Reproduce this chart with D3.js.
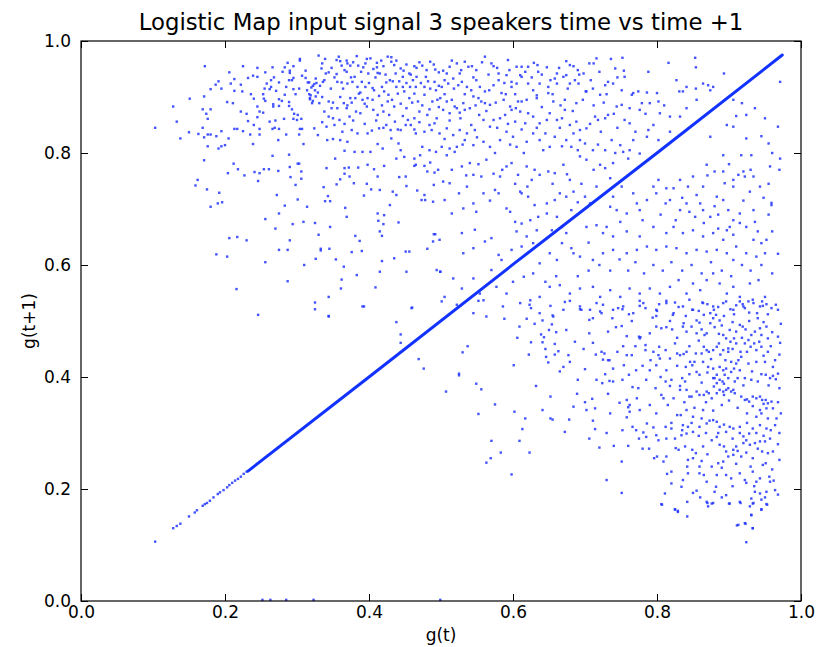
<!DOCTYPE html>
<meta charset="utf-8" />
<script src="https://d3js.org/d3.v7.min.js"></script>
<body style="margin:0;background:#fff">
<div id="chart"></div>
<script>
// all points are [g(t), g(t+1)] pairs

// the thick diagonal band where g(t+1) ~ g(t)
const diagonalLine = [[0.232,0.232],[0.4,0.4],[0.6,0.601],[0.8,0.8],[0.974,0.975]];
const diagonalDots = [[0.103,0.106],[0.128,0.130],[0.133,0.134],[0.138,0.138],[0.150,0.151],[0.158,0.158],[0.161,0.162],
  [0.169,0.170],[0.172,0.173],[0.175,0.175],[0.179,0.179],[0.184,0.185],[0.190,0.191],[0.193,0.194],[0.198,0.198],
  [0.203,0.203],[0.206,0.207],[0.210,0.211],[0.214,0.215],[0.218,0.218],[0.222,0.222],[0.226,0.227],[0.230,0.231]];

// points sitting on the bottom axis
const floorDots = [[0.252,0.002],[0.263,0.002],[0.285,0.002],[0.323,0.002],[0.499,0.002]];

// upper left cloud, g(t) < 0.5
const upperLeft = [[0.103,0.845],[0.128,0.883],[0.133,0.856],[0.138,0.826],[0.151,0.897],[0.150,0.837],[0.163,0.834],[0.172,0.955],
  [0.171,0.901],[0.169,0.878],[0.174,0.870],[0.176,0.861],[0.169,0.845],[0.171,0.828],[0.176,0.833],[0.180,0.833],[0.180,0.878],
  [0.180,0.914],[0.187,0.922],[0.191,0.928],[0.195,0.915],[0.188,0.830],[0.176,0.812],[0.191,0.808],[0.195,0.812],[0.200,0.814],
  [0.205,0.826],[0.195,0.839],[0.171,0.787],[0.203,0.891],[0.211,0.889],[0.206,0.944],[0.213,0.932],[0.208,0.924],[0.213,0.911],
  [0.224,0.910],[0.222,0.874],[0.230,0.870],[0.232,0.857],[0.213,0.843],[0.217,0.843],[0.225,0.839],[0.235,0.833],[0.239,0.816],
  [0.240,0.850],[0.232,0.934],[0.239,0.938],[0.245,0.936],[0.240,0.897],[0.245,0.883],[0.248,0.874],[0.253,0.872],[0.245,0.864],
  [0.248,0.843],[0.248,0.833],[0.253,0.905],[0.254,0.897],[0.256,0.893],[0.256,0.944],[0.258,0.924],[0.262,0.914],[0.264,0.930],
  [0.266,0.953],[0.264,0.918],[0.267,0.887],[0.267,0.883],[0.271,0.911],[0.262,0.856],[0.270,0.858],[0.266,0.843],[0.269,0.845],
  [0.275,0.843],[0.275,0.926],[0.275,0.896],[0.275,0.884],[0.274,0.823],[0.266,0.795],[0.279,0.893],[0.282,0.861],[0.283,0.953],
  [0.287,0.961],[0.290,0.947],[0.290,0.943],[0.289,0.930],[0.283,0.904],[0.289,0.891],[0.289,0.884],[0.285,0.833],[0.289,0.797],
  [0.295,0.934],[0.293,0.930],[0.295,0.914],[0.293,0.878],[0.295,0.861],[0.296,0.870],[0.300,0.859],[0.301,0.868],[0.304,0.968],
  [0.304,0.965],[0.303,0.915],[0.306,0.861],[0.304,0.843],[0.307,0.843],[0.303,0.833],[0.309,0.816],[0.301,0.781],[0.290,0.775],
  [0.307,0.938],[0.312,0.947],[0.312,0.934],[0.315,0.926],[0.317,0.926],[0.314,0.912],[0.317,0.905],[0.320,0.917],[0.322,0.920],
  [0.325,0.912],[0.318,0.896],[0.321,0.889],[0.327,0.925],[0.329,0.908],
  [0.162,0.752],[0.159,0.742],[0.175,0.735],[0.192,0.729],[0.196,0.712],[0.190,0.710],[0.180,0.704],[0.204,0.764],[0.212,0.781],
  [0.218,0.771],[0.227,0.760],[0.241,0.766],[0.248,0.764],[0.246,0.750],[0.254,0.771],[0.261,0.771],[0.274,0.768],[0.272,0.725],
  [0.283,0.706],[0.275,0.692],[0.256,0.682],[0.270,0.665],[0.291,0.757],[0.298,0.743],[0.301,0.717],[0.294,0.673],[0.309,0.677],
  [0.303,0.781],[0.306,0.767],[0.306,0.754],[0.314,0.704],[0.325,0.675],[0.330,0.654],[0.206,0.648],[0.217,0.650],[0.230,0.644],
  [0.188,0.619],[0.203,0.615],[0.256,0.605],[0.275,0.627],[0.287,0.627],[0.290,0.644],[0.287,0.571],[0.216,0.557],[0.310,0.600],
  [0.326,0.611],[0.325,0.533],[0.325,0.521],[0.246,0.511],[0.333,0.629],[0.333,0.626],
  [0.330,0.974],[0.339,0.968],[0.334,0.951],[0.344,0.944],[0.355,0.966],[0.360,0.964],[0.362,0.956],[0.369,0.965],[0.370,0.960],
  [0.374,0.956],[0.383,0.973],[0.385,0.956],[0.397,0.968],[0.402,0.969],[0.411,0.961],[0.411,0.953],[0.420,0.955],[0.426,0.972],
  [0.431,0.971],[0.431,0.963],[0.435,0.957],[0.444,0.951],[0.448,0.947],[0.463,0.955],[0.466,0.952],[0.474,0.956],[0.485,0.963],
  [0.492,0.949],[0.497,0.944],[0.340,0.942],[0.355,0.941],[0.369,0.945],[0.380,0.936],[0.392,0.953],[0.399,0.942],[0.412,0.943],
  [0.415,0.942],[0.429,0.930],[0.437,0.942],[0.447,0.936],[0.456,0.942],[0.466,0.936],[0.479,0.936],[0.491,0.927],[0.326,0.933],
  [0.324,0.923],[0.332,0.920],[0.336,0.927],[0.356,0.927],[0.362,0.926],[0.370,0.924],[0.377,0.927],[0.384,0.918],[0.390,0.927],
  [0.395,0.918],[0.405,0.916],[0.424,0.926],[0.433,0.928],[0.438,0.918],[0.447,0.918],[0.457,0.918],[0.465,0.918],[0.477,0.918],
  [0.485,0.915],[0.493,0.912],[0.319,0.903],[0.318,0.898],[0.322,0.893],[0.326,0.901],[0.331,0.889],[0.344,0.892],[0.350,0.890],
  [0.356,0.880],[0.365,0.889],[0.374,0.898],[0.376,0.890],[0.386,0.906],[0.391,0.895],[0.398,0.898],[0.397,0.883],[0.407,0.912],
  [0.414,0.902],[0.421,0.910],[0.427,0.904],[0.432,0.895],[0.440,0.906],[0.449,0.910],[0.456,0.898],[0.463,0.906],[0.468,0.892],
  [0.477,0.904],[0.488,0.892],[0.495,0.895],[0.338,0.874],[0.344,0.865],[0.359,0.859],[0.369,0.880],[0.373,0.865],[0.382,0.874],
  [0.388,0.871],[0.406,0.877],[0.412,0.868],[0.420,0.874],[0.428,0.868],[0.435,0.883],[0.447,0.866],[0.454,0.859],[0.463,0.862],
  [0.470,0.874],[0.481,0.868],[0.491,0.853],[0.324,0.844],[0.329,0.832],[0.341,0.847],[0.352,0.850],[0.363,0.838],[0.376,0.841],
  [0.384,0.835],[0.398,0.835],[0.404,0.840],[0.414,0.844],[0.424,0.850],[0.430,0.841],[0.440,0.842],[0.444,0.841],[0.451,0.850],
  [0.463,0.842],[0.465,0.835],[0.477,0.838],[0.487,0.841],[0.498,0.835],[0.342,0.823],[0.350,0.825],[0.360,0.823],[0.366,0.804],
  [0.370,0.820],[0.380,0.802],[0.391,0.802],[0.402,0.802],[0.412,0.816],[0.419,0.808],[0.431,0.826],[0.441,0.817],[0.444,0.805],
  [0.438,0.790],[0.449,0.793],[0.463,0.790],[0.471,0.796],[0.474,0.811],[0.484,0.805],[0.485,0.783],[0.493,0.802],[0.463,0.777],
  [0.465,0.779],[0.477,0.777],
  [0.341,0.773],[0.353,0.790],[0.366,0.773],[0.372,0.774],[0.373,0.758],[0.366,0.763],[0.355,0.744],[0.360,0.753],[0.379,0.746],
  [0.385,0.774],[0.398,0.779],[0.407,0.771],[0.412,0.758],[0.421,0.777],[0.397,0.745],[0.403,0.735],[0.415,0.734],[0.433,0.731],
  [0.438,0.725],[0.442,0.757],[0.451,0.758],[0.452,0.741],[0.467,0.733],[0.477,0.725],[0.478,0.716],[0.473,0.716],[0.489,0.713],
  [0.490,0.743],[0.496,0.770],[0.491,0.765],[0.481,0.767],[0.337,0.739],[0.343,0.723],[0.346,0.714],[0.339,0.714],[0.367,0.702],
  [0.369,0.686],[0.393,0.724],[0.412,0.692],[0.413,0.679],[0.421,0.689],[0.420,0.673],[0.429,0.707],[0.441,0.676],[0.415,0.660],
  [0.418,0.652],[0.381,0.652],[0.387,0.643],[0.346,0.668],[0.490,0.655],[0.492,0.655],[0.489,0.642],[0.498,0.645],[0.481,0.629],
  [0.451,0.624],[0.456,0.624],[0.435,0.612],[0.418,0.607],[0.390,0.625],[0.376,0.623],[0.365,0.597],[0.354,0.610],[0.345,0.629],
  [0.415,0.588],[0.452,0.588],[0.494,0.591],[0.499,0.588],[0.383,0.582],[0.362,0.574],[0.361,0.558],[0.409,0.560],[0.344,0.543],
  [0.393,0.526],[0.460,0.524],[0.344,0.508]];

// extra points in the crowded top band, g(t) < 0.5
const upperBand = [[0.335,0.960],[0.348,0.952],[0.358,0.972],[0.366,0.948],[0.378,0.962],[0.389,0.945],[0.395,0.960],[0.406,0.950],
  [0.417,0.965],[0.423,0.940],[0.438,0.965],[0.452,0.958],[0.458,0.940],[0.470,0.962],[0.480,0.948],[0.490,0.958],[0.338,0.930],
  [0.347,0.915],[0.352,0.935],[0.364,0.915],[0.375,0.935],[0.388,0.908],[0.400,0.925],[0.409,0.935],[0.418,0.918],[0.442,0.928],
  [0.452,0.925],[0.461,0.930],[0.472,0.925],[0.482,0.928],[0.497,0.920],[0.335,0.900],[0.348,0.880],[0.360,0.900],[0.370,0.885],
  [0.381,0.898],[0.394,0.888],[0.405,0.895],[0.418,0.885],[0.426,0.892],[0.444,0.888],[0.452,0.880],[0.460,0.890],[0.474,0.885],
  [0.484,0.878],[0.497,0.882],[0.335,0.855],[0.350,0.862],[0.366,0.852],[0.378,0.858],[0.394,0.852],[0.410,0.858],[0.420,0.845],
  [0.436,0.856],[0.458,0.850],[0.470,0.855],[0.484,0.850],[0.494,0.862],[0.225,0.955],[0.245,0.952],[0.255,0.915],[0.268,0.935],
  [0.280,0.945],[0.295,0.955],[0.285,0.918],[0.298,0.905],[0.236,0.905],[0.222,0.922]];

// upper right cloud above the diagonal, g(t) >= 0.5
const upperRight = [[0.503,0.947],[0.512,0.954],[0.522,0.960],[0.533,0.963],[0.538,0.954],[0.543,0.955],[0.549,0.948],[0.561,0.972],
  [0.570,0.960],[0.573,0.955],[0.580,0.942],[0.593,0.966],[0.605,0.954],[0.612,0.954],[0.621,0.954],[0.629,0.961],[0.634,0.957],
  [0.635,0.945],[0.647,0.953],[0.661,0.942],[0.674,0.964],[0.679,0.957],[0.684,0.955],[0.692,0.940],[0.698,0.942],[0.706,0.960],
  [0.712,0.960],[0.716,0.969],[0.736,0.968],[0.752,0.970],[0.742,0.951],[0.754,0.947],[0.788,0.945],[0.816,0.961],[0.853,0.970],
  [0.854,0.953],[0.610,0.939],[0.591,0.939],[0.508,0.942],[0.526,0.942],
  [0.501,0.918],[0.505,0.930],[0.510,0.924],[0.517,0.933],[0.524,0.921],[0.529,0.927],[0.536,0.918],[0.542,0.912],[0.549,0.930],
  [0.554,0.918],[0.561,0.910],[0.567,0.912],[0.573,0.921],[0.580,0.930],[0.584,0.907],[0.598,0.918],[0.598,0.927],[0.605,0.924],
  [0.612,0.936],[0.621,0.924],[0.628,0.912],[0.637,0.924],[0.649,0.918],[0.649,0.907],[0.658,0.933],[0.661,0.924],[0.670,0.936],
  [0.674,0.939],[0.679,0.924],[0.686,0.930],[0.691,0.924],[0.701,0.910],[0.711,0.915],[0.728,0.921],[0.732,0.927],[0.739,0.924],
  [0.755,0.936],[0.751,0.912],[0.765,0.904],[0.767,0.907],[0.774,0.910],[0.786,0.908],[0.800,0.907],[0.827,0.930],[0.831,0.910],
  [0.836,0.910],[0.841,0.918],[0.854,0.915],[0.864,0.924],[0.871,0.921],[0.874,0.912],[0.878,0.918],[0.893,0.942],
  [0.499,0.898],[0.508,0.892],[0.515,0.895],[0.519,0.883],[0.531,0.889],[0.545,0.901],[0.552,0.898],[0.556,0.892],[0.561,0.889],
  [0.568,0.886],[0.587,0.895],[0.596,0.883],[0.607,0.892],[0.612,0.892],[0.633,0.903],[0.633,0.898],[0.656,0.892],[0.672,0.895],
  [0.688,0.889],[0.702,0.910],[0.721,0.904],[0.751,0.886],[0.779,0.889],[0.790,0.889],[0.802,0.892],[0.855,0.895],[0.841,0.880],
  [0.503,0.877],[0.512,0.871],[0.522,0.880],[0.526,0.872],[0.533,0.877],[0.540,0.880],[0.559,0.859],[0.568,0.847],[0.573,0.859],
  [0.582,0.862],[0.589,0.868],[0.598,0.877],[0.603,0.856],[0.610,0.874],[0.617,0.853],[0.621,0.871],[0.628,0.865],[0.637,0.853],
  [0.647,0.859],[0.651,0.871],[0.661,0.859],[0.668,0.862],[0.672,0.877],[0.679,0.850],[0.688,0.856],[0.693,0.841],[0.702,0.844],
  [0.714,0.865],[0.718,0.859],[0.728,0.862],[0.732,0.868],[0.744,0.883],[0.755,0.859],[0.762,0.853],[0.776,0.877],[0.788,0.841],
  [0.804,0.871],[0.818,0.865],[0.832,0.865],[0.508,0.844],[0.517,0.832],[0.526,0.841],[0.536,0.835],[0.547,0.841],[0.533,0.823],
  [0.545,0.814],[0.559,0.820],[0.568,0.811],[0.582,0.823],[0.591,0.838],[0.600,0.829],[0.605,0.811],[0.619,0.820],[0.628,0.835],
  [0.637,0.823],[0.651,0.811],[0.658,0.829],[0.674,0.823],[0.681,0.811],[0.693,0.823],[0.700,0.817],[0.711,0.805],[0.728,0.805],
  [0.737,0.823],[0.749,0.814],[0.767,0.823],[0.786,0.829],[0.802,0.823],[0.818,0.838],[0.501,0.811],[0.512,0.808],[0.522,0.811],
  [0.508,0.796],[0.519,0.802],[0.529,0.776],[0.540,0.782],[0.545,0.761],[0.556,0.758],[0.563,0.788],[0.573,0.763],[0.575,0.734],
  [0.582,0.758],[0.591,0.776],[0.598,0.782],[0.607,0.761],[0.610,0.731],[0.619,0.776],[0.626,0.752],[0.637,0.761],[0.649,0.767],
  [0.658,0.764],[0.670,0.779],[0.679,0.752],[0.693,0.794],[0.702,0.788],[0.721,0.779],[0.728,0.773],[0.739,0.782],[0.753,0.802],
  [0.762,0.805],[0.776,0.799],[0.503,0.749],[0.512,0.746],[0.505,0.716],[0.536,0.740],[0.559,0.728],[0.580,0.728],[0.591,0.701],
  [0.596,0.695],[0.612,0.728],[0.621,0.722],[0.630,0.707],[0.647,0.710],[0.658,0.716],[0.674,0.722],[0.684,0.731],[0.700,0.722],
  [0.707,0.710],[0.716,0.740],[0.739,0.722],[0.751,0.740],
  [0.515,0.692],[0.531,0.701],[0.545,0.710],[0.549,0.695],[0.529,0.657],[0.547,0.663],[0.561,0.642],[0.570,0.648],[0.580,0.618],
  [0.603,0.677],[0.612,0.674],[0.624,0.680],[0.635,0.686],[0.647,0.692],[0.661,0.686],[0.681,0.698],[0.605,0.660],[0.619,0.651],
  [0.633,0.662],[0.654,0.662],[0.668,0.668],[0.531,0.621],[0.545,0.630],[0.570,0.591],[0.584,0.609],[0.598,0.627],[0.612,0.633],
  [0.628,0.639],[0.499,0.588],[0.517,0.576],[0.545,0.576],[0.505,0.543],[0.529,0.558],[0.554,0.549],[0.501,0.535],
  [0.515,0.965],[0.528,0.948],[0.545,0.935],[0.557,0.962],[0.566,0.940],[0.578,0.952],[0.588,0.925],[0.595,0.948],[0.603,0.905],
  [0.617,0.945],[0.626,0.935],[0.640,0.940],[0.652,0.930],[0.664,0.952],[0.676,0.915],[0.690,0.948],[0.708,0.930],[0.720,0.945],
  [0.730,0.905],[0.745,0.935],[0.505,0.905],[0.518,0.915],[0.533,0.905],[0.548,0.885],[0.563,0.875],[0.576,0.890],[0.590,0.905],
  [0.604,0.880],[0.619,0.895],[0.640,0.882],[0.655,0.905],[0.666,0.885],[0.683,0.875],[0.697,0.895],[0.712,0.885],[0.726,0.890],
  [0.740,0.870],[0.762,0.880],[0.784,0.870],[0.810,0.885],[0.512,0.858],[0.527,0.862],[0.542,0.850],[0.553,0.868],[0.578,0.845],
  [0.593,0.852],[0.612,0.842],[0.633,0.845],[0.645,0.835],[0.665,0.845],[0.684,0.835],[0.707,0.852],[0.722,0.838],[0.745,0.845],
  [0.770,0.838],[0.795,0.850],[0.505,0.825],[0.530,0.815],[0.550,0.828],[0.575,0.800],[0.596,0.815],[0.615,0.800],[0.642,0.805],
  [0.668,0.812],[0.690,0.805],[0.718,0.815],[0.742,0.800],[0.760,0.790],[0.515,0.770],[0.535,0.760],[0.552,0.780],[0.585,0.770],
  [0.603,0.745],[0.630,0.770],[0.655,0.745],[0.675,0.762],[0.695,0.745],[0.712,0.770],[0.735,0.755],[0.525,0.728],[0.568,0.715],
  [0.620,0.740],[0.665,0.728],[0.690,0.712]];

// lower right cloud below the diagonal, upper half
const belowUpper = [[0.906,0.895],[0.918,0.889],[0.936,0.880],[0.910,0.866],[0.924,0.868],[0.950,0.862],[0.968,0.847],[0.897,0.850],
  [0.906,0.847],[0.924,0.826],[0.955,0.817],[0.971,0.927],[0.971,0.790],[0.970,0.770],[0.957,0.776],[0.874,0.829],[0.892,0.796],
  [0.869,0.779],[0.880,0.767],[0.892,0.767],[0.894,0.746],[0.906,0.752],[0.913,0.761],[0.920,0.767],[0.922,0.758],[0.934,0.758],
  [0.943,0.740],[0.929,0.731],[0.906,0.740],[0.959,0.711],[0.959,0.707],[0.917,0.796],[0.931,0.796],[0.850,0.758],[0.864,0.740],
  [0.843,0.740],[0.832,0.752],[0.823,0.737],[0.855,0.725],[0.883,0.722],[0.892,0.716],[0.899,0.698],[0.906,0.680],[0.915,0.692],
  [0.934,0.698],[0.936,0.677],[0.924,0.668],[0.901,0.668],[0.897,0.662],[0.885,0.665],[0.874,0.686],[0.864,0.698],[0.853,0.686],
  [0.841,0.710],[0.832,0.698],[0.818,0.716],[0.813,0.737],[0.802,0.752],[0.795,0.740],[0.799,0.728],[0.786,0.716],[0.767,0.728],
  [0.772,0.710],[0.776,0.698],[0.758,0.692],[0.744,0.698],[0.735,0.704],[0.749,0.677],[0.730,0.668],[0.716,0.671],[0.702,0.668],
  [0.725,0.657],[0.739,0.651],[0.758,0.660],[0.776,0.651],[0.795,0.668],[0.813,0.657],[0.823,0.668],[0.836,0.657],[0.850,0.662],
  [0.864,0.651],[0.878,0.657],[0.892,0.645],[0.906,0.654],[0.934,0.645],[0.945,0.639],[0.952,0.645],[0.950,0.621],[0.938,0.615],
  [0.924,0.621],[0.910,0.633],[0.906,0.609],[0.897,0.621],[0.883,0.627],[0.869,0.624],[0.855,0.627],[0.841,0.621],[0.827,0.630],
  [0.813,0.633],[0.799,0.627],[0.786,0.633],[0.772,0.627],[0.758,0.621],[0.739,0.627],[0.725,0.621],[0.711,0.609],[0.693,0.615],
  [0.684,0.621],[0.674,0.657],[0.681,0.630],[0.668,0.639],[0.661,0.609],[0.651,0.621],[0.637,0.603],[0.628,0.585],[0.615,0.579],
  [0.600,0.570],[0.591,0.549],[0.577,0.561],[0.559,0.537],[0.545,0.514],[0.563,0.508],[0.586,0.526],[0.610,0.532],[0.624,0.537],
  [0.637,0.543],[0.651,0.561],[0.665,0.564],[0.679,0.549],[0.693,0.558],[0.711,0.561],[0.721,0.543],[0.735,0.555],[0.749,0.543],
  [0.762,0.558],[0.776,0.549],[0.790,0.558],[0.804,0.549],[0.818,0.561],[0.830,0.573],[0.841,0.549],[0.850,0.567],[0.860,0.555],
  [0.869,0.573],[0.878,0.585],[0.887,0.567],[0.897,0.549],[0.906,0.561],[0.915,0.543],[0.929,0.567],[0.941,0.573],[0.950,0.543],
  [0.943,0.526],[0.934,0.532],[0.920,0.526],[0.906,0.520],[0.892,0.532],[0.878,0.526],[0.864,0.532],[0.850,0.520],[0.836,0.526],
  [0.823,0.514],[0.813,0.532],[0.799,0.520],[0.781,0.532],[0.767,0.514],[0.753,0.526],[0.739,0.520],[0.725,0.529],[0.707,0.520],
  [0.693,0.526],[0.670,0.520],[0.656,0.508],[0.637,0.514],
  [0.705,0.640],[0.720,0.600],[0.735,0.590],[0.748,0.610],[0.760,0.590],[0.770,0.605],[0.782,0.585],[0.795,0.600],[0.808,0.590],
  [0.820,0.605],[0.835,0.590],[0.848,0.600],[0.862,0.585],[0.875,0.605],[0.890,0.590],[0.903,0.580],[0.918,0.600],[0.930,0.590],
  [0.945,0.600],[0.960,0.585],[0.968,0.620],[0.960,0.660],[0.690,0.580],[0.660,0.580],[0.645,0.570],[0.705,0.590],[0.780,0.680],
  [0.805,0.690],[0.826,0.680],[0.845,0.695],[0.865,0.675],[0.885,0.690],[0.915,0.675],[0.940,0.660],[0.955,0.690],[0.812,0.710],
  [0.835,0.720],[0.860,0.710],[0.880,0.705],[0.920,0.715],[0.948,0.720],[0.870,0.760],[0.900,0.780],[0.930,0.770],[0.955,0.745],
  [0.960,0.800],[0.945,0.830]];

// dense lower right cloud, g(t+1) < 0.54
const lowerRight = [[0.672,0.534],[0.679,0.536],[0.693,0.521],[0.695,0.520],[0.706,0.502],[0.711,0.505],[0.716,0.532],[0.721,0.517],
  [0.723,0.514],[0.746,0.523],[0.752,0.521],[0.761,0.512],[0.776,0.536],[0.776,0.527],[0.784,0.523],[0.794,0.506],[0.799,0.509],
  [0.803,0.530],[0.800,0.518],[0.813,0.536],[0.825,0.533],[0.822,0.511],[0.837,0.496],[0.840,0.509],[0.849,0.520],[0.855,0.501],
  [0.859,0.497],[0.863,0.533],[0.865,0.511],[0.874,0.514],[0.879,0.520],[0.882,0.511],[0.887,0.501],[0.893,0.509],[0.896,0.535],
  [0.902,0.521],[0.907,0.512],[0.915,0.535],[0.919,0.530],[0.922,0.523],[0.927,0.535],[0.933,0.538],[0.939,0.514],[0.940,0.505],
  [0.946,0.535],[0.947,0.527],[0.954,0.512],[0.959,0.523],[0.965,0.529],[0.874,0.496],[0.915,0.493],[0.674,0.484],[0.706,0.478],
  [0.732,0.481],[0.743,0.489],[0.751,0.491],[0.758,0.473],[0.775,0.472],[0.777,0.471],[0.799,0.490],[0.806,0.487],[0.813,0.489],
  [0.821,0.485],[0.836,0.490],[0.841,0.481],[0.855,0.478],[0.866,0.475],[0.869,0.478],[0.880,0.489],[0.886,0.477],[0.892,0.475],
  [0.896,0.469],[0.901,0.484],[0.910,0.481],[0.919,0.490],[0.923,0.485],[0.931,0.475],[0.936,0.481],[0.943,0.487],[0.945,0.475],
  [0.952,0.490],[0.954,0.469],[0.968,0.472],[0.971,0.461],
  [0.686,0.463],[0.711,0.461],[0.723,0.445],[0.727,0.442],[0.732,0.430],[0.725,0.431],[0.753,0.455],[0.765,0.439],[0.758,0.439],
  [0.776,0.469],[0.784,0.457],[0.784,0.448],[0.791,0.430],[0.803,0.454],[0.802,0.439],[0.804,0.433],[0.818,0.433],[0.828,0.442],
  [0.832,0.439],[0.837,0.441],[0.841,0.445],[0.846,0.427],[0.852,0.427],[0.854,0.442],[0.862,0.442],[0.865,0.454],[0.869,0.448],
  [0.872,0.445],[0.878,0.448],[0.883,0.454],[0.886,0.460],[0.892,0.448],[0.899,0.451],[0.899,0.445],[0.902,0.463],[0.907,0.469],
  [0.910,0.460],[0.916,0.445],[0.922,0.460],[0.927,0.466],[0.930,0.454],[0.938,0.448],[0.942,0.463],[0.945,0.454],[0.954,0.445],
  [0.964,0.430],[0.961,0.418],[0.950,0.427],[0.938,0.427],[0.927,0.424],[0.917,0.436],[0.910,0.424],[0.903,0.427],[0.896,0.415],
  [0.892,0.412],[0.887,0.418],[0.883,0.404],[0.878,0.398],[0.871,0.418],[0.864,0.427],[0.859,0.404],[0.855,0.409],[0.849,0.421],
  [0.840,0.418],[0.835,0.398],[0.839,0.392],[0.813,0.412],[0.799,0.421],[0.790,0.412],[0.780,0.420],[0.771,0.412],[0.761,0.404],
  [0.754,0.421],[0.739,0.415],[0.734,0.430],[0.716,0.395],[0.724,0.389],[0.700,0.414],[0.679,0.427],[0.670,0.418],[0.677,0.439],
  [0.961,0.402],[0.965,0.396],[0.968,0.406],[0.957,0.398],[0.951,0.404],[0.940,0.392],[0.931,0.395],[0.922,0.398],[0.915,0.412],
  [0.907,0.415],[0.903,0.409],[0.899,0.398],[0.894,0.404],[0.891,0.392],[0.887,0.395],[0.880,0.398],[0.879,0.383],[0.883,0.389],
  [0.887,0.377],[0.892,0.374],[0.899,0.380],[0.906,0.377],[0.908,0.392],
  [0.734,0.393],[0.739,0.392],[0.732,0.370],[0.710,0.361],[0.689,0.370],[0.684,0.347],[0.702,0.341],[0.714,0.344],[0.678,0.324],
  [0.672,0.302],[0.711,0.322],[0.714,0.307],[0.748,0.354],[0.758,0.359],[0.762,0.350],[0.760,0.346],[0.762,0.338],[0.776,0.341],
  [0.766,0.382],[0.774,0.380],[0.798,0.380],[0.806,0.368],[0.809,0.362],[0.812,0.392],[0.818,0.384],[0.832,0.384],[0.832,0.377],
  [0.841,0.377],[0.845,0.365],[0.848,0.365],[0.855,0.374],[0.859,0.368],[0.865,0.368],[0.869,0.374],[0.872,0.371],[0.876,0.362],
  [0.883,0.371],[0.893,0.368],[0.896,0.377],[0.903,0.374],[0.908,0.371],[0.917,0.365],[0.922,0.359],[0.925,0.360],[0.928,0.356],
  [0.933,0.365],[0.938,0.362],[0.943,0.365],[0.946,0.359],[0.951,0.359],[0.954,0.353],[0.959,0.356],[0.961,0.344],[0.952,0.344],
  [0.943,0.341],[0.938,0.329],[0.945,0.335],[0.954,0.326],[0.966,0.326],[0.964,0.314],[0.952,0.308],[0.943,0.314],[0.933,0.308],
  [0.928,0.299],[0.920,0.294],[0.915,0.311],[0.906,0.308],[0.901,0.311],[0.896,0.302],[0.887,0.311],[0.883,0.320],[0.878,0.323],
  [0.873,0.322],[0.869,0.317],[0.862,0.326],[0.859,0.311],[0.850,0.302],[0.843,0.311],[0.836,0.314],[0.833,0.332],[0.828,0.332],
  [0.841,0.341],[0.850,0.329],[0.864,0.341],[0.841,0.299],[0.834,0.296],[0.825,0.290],[0.820,0.308],[0.812,0.311],[0.799,0.335],
  [0.799,0.296],[0.781,0.301],[0.771,0.305],[0.766,0.311],[0.786,0.317],[0.758,0.328],[0.785,0.293],[0.802,0.287],[0.813,0.290],
  [0.706,0.290],[0.720,0.274],[0.740,0.277],[0.760,0.277],[0.780,0.272],[0.789,0.272],[0.796,0.255],[0.800,0.258],[0.813,0.258],
  [0.809,0.249],[0.826,0.273],[0.839,0.276],[0.849,0.270],[0.854,0.264],[0.864,0.276],[0.876,0.287],[0.883,0.293],[0.887,0.279],
  [0.893,0.276],[0.896,0.267],[0.906,0.270],[0.910,0.276],[0.920,0.282],[0.924,0.287],[0.929,0.279],[0.936,0.282],[0.943,0.285],
  [0.950,0.285],[0.957,0.290],[0.961,0.267],[0.954,0.264],[0.946,0.267],[0.933,0.255],[0.924,0.265],[0.917,0.258],[0.906,0.261],
  [0.899,0.258],[0.892,0.249],[0.885,0.246],[0.876,0.240],[0.859,0.240],[0.843,0.252],[0.842,0.240],[0.843,0.228],[0.859,0.228],
  [0.869,0.213],[0.883,0.225],[0.896,0.225],[0.903,0.219],[0.915,0.228],[0.922,0.216],[0.924,0.211],[0.933,0.231],[0.938,0.213],
  [0.943,0.219],[0.947,0.243],[0.951,0.246],[0.956,0.222],[0.957,0.213],[0.964,0.198],[0.952,0.195],[0.943,0.192],[0.936,0.195],
  [0.931,0.183],[0.933,0.174],[0.945,0.181],[0.952,0.173],[0.945,0.164],[0.931,0.154],[0.922,0.139],[0.933,0.130],[0.913,0.136],
  [0.915,0.177],[0.901,0.174],[0.896,0.189],[0.882,0.204],[0.880,0.195],[0.876,0.174],[0.869,0.177],[0.850,0.193],[0.855,0.197],
  [0.842,0.177],[0.836,0.216],[0.834,0.204],[0.829,0.161],[0.825,0.164],[0.811,0.192],[0.806,0.173],[0.820,0.231],[0.814,0.227],
  [0.751,0.249],[0.730,0.216],[0.751,0.193],
  [0.807,0.172],[0.825,0.163],[0.829,0.159],[0.842,0.151],[0.870,0.175],[0.871,0.169],[0.878,0.175],[0.900,0.174],[0.916,0.175],
  [0.929,0.169],[0.934,0.175],[0.931,0.153],[0.911,0.135],[0.923,0.138],[0.933,0.130],[0.924,0.105],[0.945,0.163],[0.953,0.172],
  [0.830,0.525],[0.845,0.538],[0.858,0.518],[0.870,0.530],[0.885,0.525],[0.910,0.528],[0.928,0.515],[0.952,0.530],[0.968,0.520],
  [0.818,0.500],[0.828,0.470],[0.848,0.490],[0.862,0.485],[0.878,0.505],[0.890,0.492],[0.905,0.498],[0.918,0.470],[0.928,0.500],
  [0.948,0.498],[0.960,0.480],[0.972,0.495],[0.790,0.478],[0.765,0.500],[0.738,0.505],[0.812,0.448],[0.825,0.460],[0.845,0.455],
  [0.858,0.465],[0.875,0.432],[0.888,0.440],[0.895,0.430],[0.905,0.450],[0.913,0.430],[0.925,0.445],[0.935,0.460],[0.948,0.438],
  [0.958,0.455],[0.970,0.440],[0.795,0.445],[0.770,0.455],[0.745,0.445],[0.715,0.440],[0.698,0.450],[0.820,0.395],[0.828,0.420],
  [0.845,0.405],[0.862,0.390],[0.870,0.408],[0.878,0.415],[0.893,0.388],[0.912,0.398],[0.920,0.385],[0.932,0.410],[0.945,0.405],
  [0.955,0.385],[0.970,0.380],[0.805,0.400],[0.785,0.395],[0.752,0.395],[0.728,0.405],[0.690,0.395],[0.815,0.350],[0.823,0.362],
  [0.838,0.355],[0.852,0.345],[0.868,0.355],[0.878,0.340],[0.890,0.350],[0.900,0.358],[0.912,0.345],[0.925,0.335],[0.933,0.348],
  [0.948,0.352],[0.968,0.355],[0.972,0.335],[0.790,0.350],[0.772,0.362],[0.735,0.335],[0.700,0.355],[0.820,0.318],[0.835,0.305],
  [0.848,0.318],[0.858,0.295],[0.868,0.300],[0.885,0.300],[0.893,0.315],[0.905,0.290],[0.915,0.300],[0.925,0.318],[0.938,0.300],
  [0.948,0.295],[0.958,0.305],[0.970,0.300],[0.795,0.310],[0.775,0.290],[0.752,0.305],[0.730,0.300],[0.830,0.270],[0.870,0.262],
  [0.912,0.268],[0.940,0.272],[0.968,0.280],[0.850,0.255],[0.862,0.250],[0.890,0.238],[0.910,0.245],[0.930,0.240],[0.960,0.235],
  [0.970,0.252],[0.865,0.225],[0.905,0.205],[0.935,0.205],[0.962,0.215],[0.890,0.185],[0.950,0.185],[0.968,0.190],[0.820,0.210],
  [0.860,0.185]];

// sparse middle cloud below the diagonal, g(t) < 0.67
const lowerMiddle = [[0.344,0.509],[0.391,0.526],[0.459,0.523],[0.438,0.498],[0.444,0.476],[0.444,0.461],[0.469,0.432],[0.476,0.415],
  [0.507,0.374],[0.525,0.406],[0.525,0.403],[0.530,0.444],[0.537,0.455],[0.522,0.529],[0.552,0.536],[0.588,0.504],[0.601,0.421],
  [0.609,0.490],[0.619,0.504],[0.623,0.529],[0.625,0.523],[0.625,0.462],[0.622,0.440],[0.641,0.501],[0.641,0.462],[0.639,0.476],
  [0.643,0.471],[0.650,0.484],[0.654,0.494],[0.652,0.527],[0.658,0.459],[0.658,0.440],[0.663,0.446],[0.649,0.426],[0.646,0.436],
  [0.665,0.410],[0.632,0.384],[0.652,0.365],[0.549,0.388],[0.556,0.378],[0.575,0.351],[0.552,0.334],[0.602,0.338],[0.617,0.326],
  [0.641,0.341],[0.652,0.326],[0.655,0.324],[0.613,0.307],[0.570,0.286],[0.609,0.286],[0.583,0.265],[0.623,0.265],[0.569,0.255],
  [0.563,0.247],[0.598,0.226],[0.606,0.470],[0.630,0.495],[0.655,0.510],[0.660,0.480],[0.645,0.450]];

const xTicks = [0, 0.2, 0.4, 0.6, 0.8, 1.0];
const yTicks = [0, 0.2, 0.4, 0.6, 0.8, 1.0];
const titleText = "Logistic Map input signal 3 speakers time vs time +1";
const xLabel = "g(t)";
const yLabel = "g(t+1)";

const W = 824, H = 647;
const plot = { left: 81, right: 801, top: 41, bottom: 601 };
const blue = "#2236ff";
const font = "DejaVu Sans, Liberation Sans, sans-serif";

const svg = d3.select("#chart").append("svg").attr("width", W).attr("height", H);

const x = d3.scaleLinear().domain([0, 1]).range([plot.left, plot.right]);
const y = d3.scaleLinear().domain([0, 1]).range([plot.bottom, plot.top]);

// scatter points
const allPoints = [].concat(upperLeft, upperBand, upperRight, belowUpper, lowerRight, lowerMiddle, diagonalDots, floorDots);
svg.append("g")
  .selectAll("rect")
  .data(allPoints)
  .enter()
  .append("rect")
  .attr("x", d => x(d[0]) - 1.2)
  .attr("y", d => y(d[1]) - 1.2)
  .attr("width", 2.4)
  .attr("height", 2.4)
  .attr("fill", blue)
  .attr("opacity", 0.85);

// the dense run of points along the diagonal
svg.append("path")
  .datum(diagonalLine)
  .attr("fill", "none")
  .attr("stroke", "#1233ff")
  .attr("stroke-width", 3)
  .attr("stroke-linecap", "round")
  .attr("d", d3.line().x(d => x(d[0])).y(d => y(d[1])));

// axes with inward ticks on all four sides
const tickLen = 7;
const axes = [
  { gen: d3.axisBottom(x), pos: "translate(0," + plot.bottom + ")", labels: true, pad: 5 },
  { gen: d3.axisTop(x), pos: "translate(0," + plot.top + ")", labels: false, pad: 5 },
  { gen: d3.axisLeft(y), pos: "translate(" + plot.left + ",0)", labels: true, pad: 10 },
  { gen: d3.axisRight(y), pos: "translate(" + plot.right + ",0)", labels: false, pad: 10 }
];
axes.forEach(function (a, i) {
  const ticks = i < 2 ? xTicks : yTicks;
  const g = svg.append("g")
    .attr("transform", a.pos)
    .call(a.gen.tickValues(ticks).tickSizeInner(-tickLen).tickSizeOuter(0).tickPadding(a.pad).tickFormat(d3.format(".1f")));
  g.select(".domain").remove();
  g.selectAll(".tick line").attr("stroke", "#000").attr("stroke-width", 1);
  g.selectAll(".tick text")
    .style("font-family", font)
    .style("font-size", "17px")
    .attr("fill", "#000");
  if (!a.labels) g.selectAll(".tick text").remove();
});

// frame
svg.append("rect")
  .attr("x", plot.left)
  .attr("y", plot.top)
  .attr("width", plot.right - plot.left)
  .attr("height", plot.bottom - plot.top)
  .attr("fill", "none")
  .attr("stroke", "#000")
  .attr("stroke-width", 1.2);

svg.append("text")
  .attr("x", (plot.left + plot.right) / 2)
  .attr("y", 30)
  .attr("text-anchor", "middle")
  .style("font-family", font)
  .style("font-size", "22.8px")
  .text(titleText);

svg.append("text")
  .attr("x", (plot.left + plot.right) / 2)
  .attr("y", 641)
  .attr("text-anchor", "middle")
  .style("font-family", font)
  .style("font-size", "17px")
  .text(xLabel);

svg.append("text")
  .attr("transform", "translate(35," + (plot.top + plot.bottom) / 2 + ")rotate(-90)")
  .attr("text-anchor", "middle")
  .style("font-family", font)
  .style("font-size", "17px")
  .text(yLabel);
</script>
</body>
